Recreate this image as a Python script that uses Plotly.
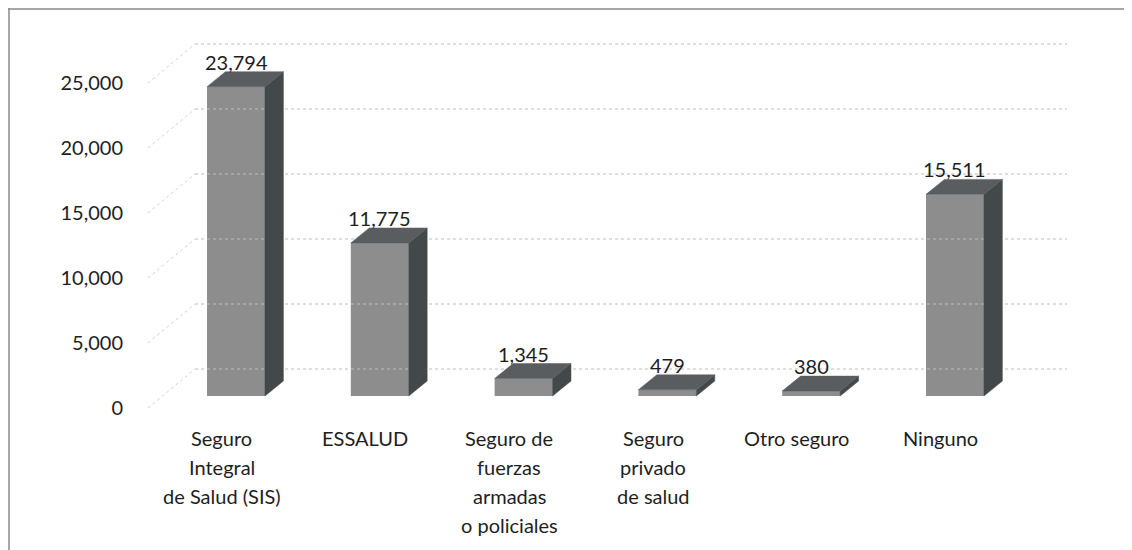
import plotly.graph_objects as go

# ---- data ----
categories = [
    "Seguro\nIntegral\nde Salud (SIS)",
    "ESSALUD",
    "Seguro de\nfuerzas\narmadas\no policiales",
    "Seguro\nprivado\nde salud",
    "Otro seguro",
    "Ninguno",
]
values = [23794, 11775, 1345, 479, 380, 15511]
y_ticks = [0, 5000, 10000, 15000, 20000, 25000]
y_tick_labels = ["0", "5,000", "10,000", "15,000", "20,000", "25,000"]

# ---- geometry (axis units) ----
X_MIN, X_MAX = -0.612, 5.779
Y_MAX = 29077
BACK_DX, BACK_DY = 0.327, 3000      # back wall offset
BAR_W = 0.403                        # front face width
DEPTH_DX, DEPTH_DY = 0.128, 1150     # bar depth offset
BASE = 923                           # front face baseline

L, R, T, B = 140, 73, 22, 150
PLOT_H = 550 - T - B

FONT = "Lato"
TXT = "#1e1e1e"
FRONT = "#8d8d8d"
SIDE = "#43484b"
TOP = "#595d60"
GRID = "#bdbdbd"

fig = go.Figure()

# back-wall gridlines and left-wall diagonals
gx, gy, dx_, dy_ = [], [], [], []
for v in y_ticks:
    gx += [X_MIN + BACK_DX, X_MAX, None]
    gy += [v + BACK_DY, v + BACK_DY, None]
    dx_ += [X_MIN, X_MIN + BACK_DX, None]
    dy_ += [v, v + BACK_DY, None]
fig.add_trace(go.Scatter(x=gx, y=gy, mode="lines", line=dict(color=GRID, width=1, dash="dot"),
                         hoverinfo="skip", showlegend=False))
fig.add_trace(go.Scatter(x=dx_, y=dy_, mode="lines", line=dict(color="#d2d2d2", width=1, dash="dot"),
                         hoverinfo="skip", showlegend=False))

xs = list(range(len(values)))

# side and top faces
sx, sy, tx, ty = [], [], [], []
for i, v in zip(xs, values):
    xl, xr = i - BAR_W / 2, i + BAR_W / 2
    sx += [xr, xr + DEPTH_DX, xr + DEPTH_DX, xr, xr, None]
    sy += [BASE, BASE + DEPTH_DY, BASE + v + DEPTH_DY, BASE + v, BASE, None]
    tx += [xl, xl + DEPTH_DX, xr + DEPTH_DX, xr, xl, None]
    ty += [BASE + v, BASE + v + DEPTH_DY, BASE + v + DEPTH_DY, BASE + v, BASE + v, None]
fig.add_trace(go.Scatter(x=sx, y=sy, mode="lines", fill="toself", fillcolor=SIDE,
                         line=dict(color=SIDE, width=0.5), hoverinfo="skip", showlegend=False))
fig.add_trace(go.Scatter(x=tx, y=ty, mode="lines", fill="toself", fillcolor=TOP,
                         line=dict(color=TOP, width=0.5), hoverinfo="skip", showlegend=False))

# front faces
fig.add_trace(go.Bar(x=xs, y=values, base=BASE, width=BAR_W,
                     marker=dict(color=FRONT, line=dict(width=0)), showlegend=False))

annotations = []
# value labels
for i, v in zip(xs, values):
    annotations.append(dict(x=i, y=BASE + v + DEPTH_DY, xref="x", yref="y", text=f"{v:,}",
                            showarrow=False, yanchor="middle", yshift=10,
                            font=dict(family=FONT, size=20, color=TXT)))
# category labels
for i, c in zip(xs, categories):
    for k, line in enumerate(c.split("\n")):
        annotations.append(dict(x=i - 0.1, y=0, xref="x", yref="y", text=line, showarrow=False,
                                yanchor="middle", yshift=-30 - 29 * k,
                                font=dict(family=FONT, size=20, color=TXT)))

top_y = (550 - B) / PLOT_H          # paper y of figure top edge
left_x = -L / (1132 - L - R)         # paper x of figure left edge

fig.update_layout(
    width=1132, height=550,
    margin=dict(l=L, r=R, t=T, b=B),
    paper_bgcolor="white", plot_bgcolor="white",
    barmode="overlay",
    annotations=annotations,
    xaxis=dict(range=[X_MIN, X_MAX], showgrid=False, zeroline=False, showticklabels=False,
               showline=False, fixedrange=True),
    yaxis=dict(range=[0, Y_MAX], tickvals=y_ticks, ticktext=y_tick_labels, showgrid=False,
               zeroline=False, showline=False, ticks="outside", ticklen=20,
               tickcolor="rgba(0,0,0,0)", tickfont=dict(family=FONT, size=20, color=TXT),
               fixedrange=True),
    shapes=[
        dict(type="line", xref="paper", yref="paper", x0=left_x, x1=1.2,
             y0=top_y - 1 / PLOT_H, y1=top_y - 1 / PLOT_H,
             line=dict(color="#8a8a8a", width=1.5)),
        dict(type="line", xref="paper", yref="paper", x0=left_x + 1 / 919, x1=left_x + 1 / 919,
             y0=top_y, y1=-1, line=dict(color="#8a8a8a", width=1.5)),
    ],
)

fig.write_html("out.html")
